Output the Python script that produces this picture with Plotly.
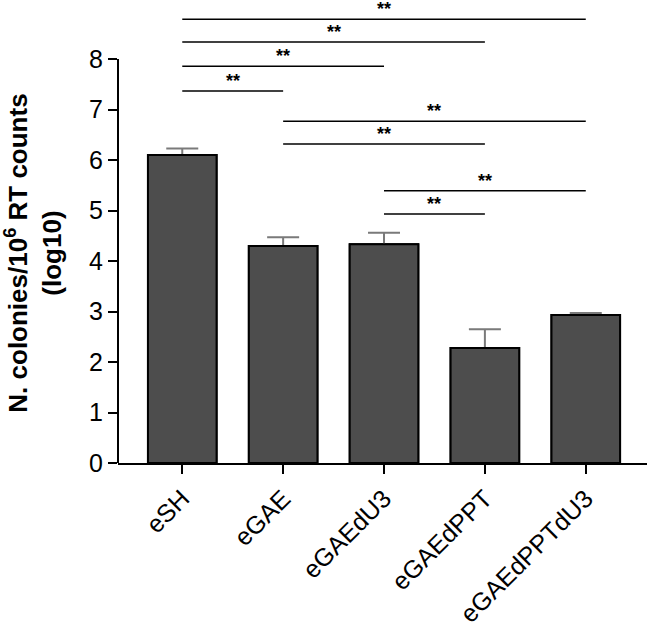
import plotly.graph_objects as go

categories = ["eSH", "eGAE", "eGAEdU3", "eGAEdPPT", "eGAEdPPTdU3"]
values = [6.10, 4.30, 4.33, 2.28, 2.93]
errors = [0.13, 0.17, 0.23, 0.37, 0.04]

# significance comparisons: (start index, end index, bar height in y units, label)
sig_start = [0, 0, 0, 0, 1, 1, 2, 2]
sig_end = [4, 3, 2, 1, 4, 3, 4, 3]
sig_level = [8.79, 8.34, 7.86, 7.37, 6.77, 6.32, 5.39, 4.93]
sig_label = ["**"] * 8

y_title = "<b>N. colonies/10<sup>6</sup> RT counts<br>(log10)</b>"

bar_color = "#4d4d4d"
font_family = "Liberation Sans, Arial, sans-serif"

fig = go.Figure()
# bar with error bars (lower half hidden by overlay trace)
fig.add_trace(go.Bar(
    x=categories, y=values,
    marker=dict(color=bar_color, line=dict(color="black", width=2)),
    error_y=dict(type="data", array=errors, visible=True, color="#7a7a7a",
                 thickness=2, width=16),
    width=0.68, showlegend=False, hoverinfo="skip",
))
fig.add_trace(go.Bar(
    x=categories, y=values,
    marker=dict(color=bar_color, line=dict(color="black", width=2)),
    width=0.68, showlegend=False,
))

shapes = []
annotations = []
for s, e, lvl, lab in zip(sig_start, sig_end, sig_level, sig_label):
    shapes.append(dict(type="line", xref="x", yref="y", x0=s, x1=e, y0=lvl, y1=lvl,
                       line=dict(color="black", width=1.5)))
    annotations.append(dict(x=(s + e) / 2, y=lvl, xref="x", yref="y", text="<b>" + lab + "</b>",
                            showarrow=False, yanchor="bottom", yshift=-2,
                            font=dict(size=18, color="black", family=font_family)))

# y-axis title as rotated annotation
annotations.append(dict(x=-0.159, y=0.455, xref="paper", yref="paper", text=y_title,
                        textangle=-90, showarrow=False, xanchor="center", yanchor="middle",
                        font=dict(size=26, color="black", family=font_family)))

# y-axis line only from 0 to 8
shapes.append(dict(type="line", xref="paper", yref="y", x0=0, x1=0, y0=0, y1=8,
                   line=dict(color="black", width=2)))

fig.update_layout(
    width=650, height=626,
    margin=dict(l=118, r=3, t=1, b=163, autoexpand=False),
    plot_bgcolor="white", paper_bgcolor="white",
    barmode="overlay",
    shapes=shapes, annotations=annotations,
    font=dict(family=font_family, color="black"),
    xaxis=dict(range=[-0.637, 4.607], showline=True, linecolor="black", linewidth=2,
               ticks="outside", ticklen=9, tickwidth=2, tickcolor="black", automargin=False,
               tickangle=-45, tickfont=dict(size=25), showgrid=False, zeroline=False),
    yaxis=dict(range=[0, 9.15], tickvals=[0, 1, 2, 3, 4, 5, 6, 7, 8], automargin=False,
               showline=False, ticks="outside", ticklen=9, tickwidth=2, tickcolor="black",
               tickfont=dict(size=25), showgrid=False, zeroline=False),
)

fig.write_html("out.html", config={"displayModeBar": False},
               post_script="document.body.style.margin='0px';")
